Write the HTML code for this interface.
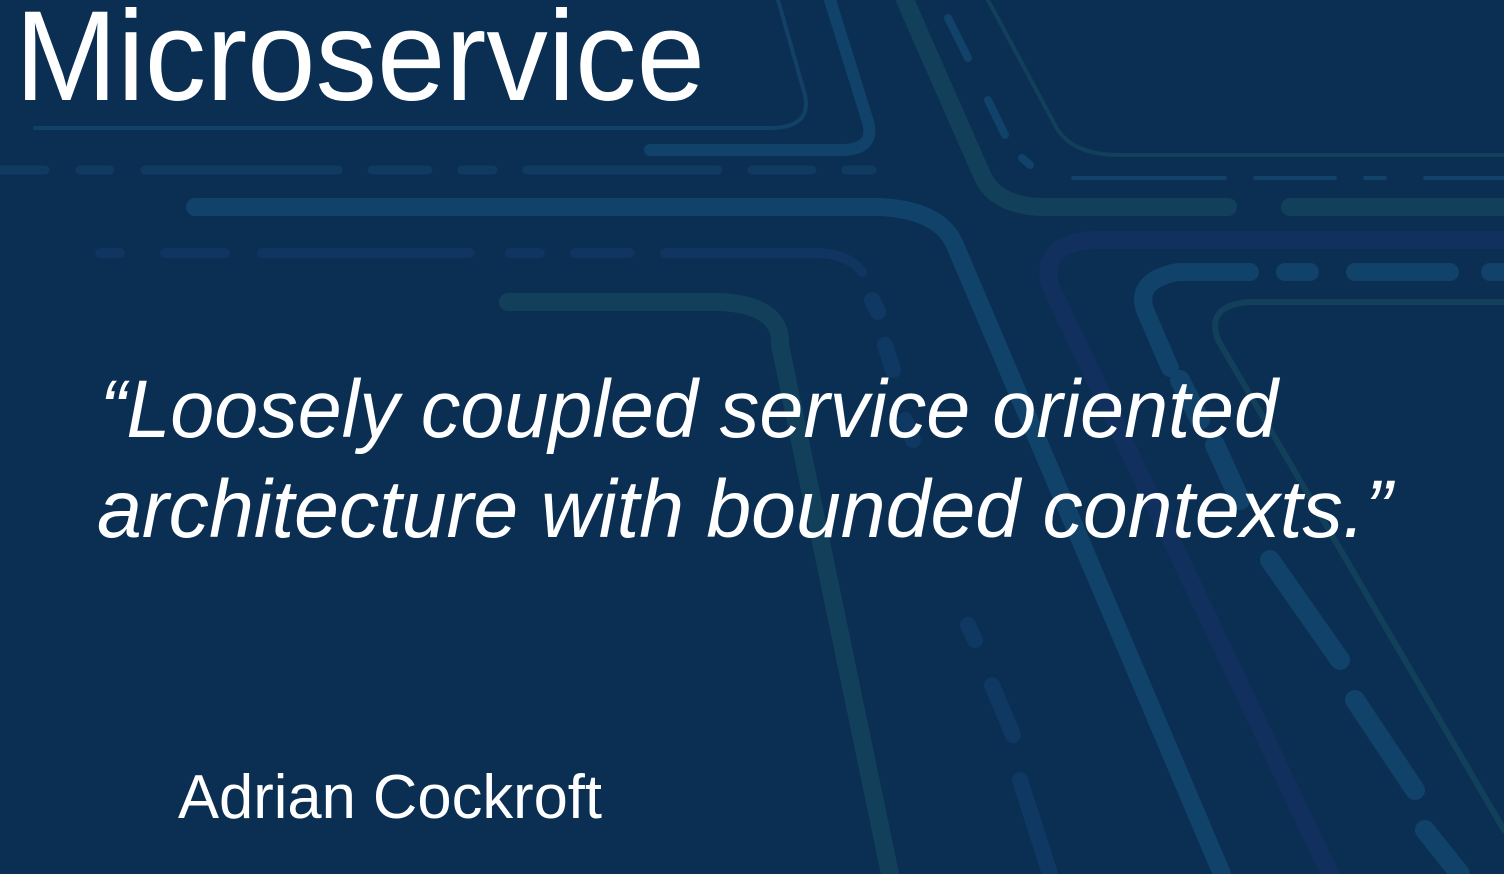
<!DOCTYPE html>
<html><head><style>
html,body{margin:0;padding:0;background:#0b2f52;width:1504px;height:874px;overflow:hidden}
svg{display:block}
</style></head><body>
<svg width="1504" height="874" viewBox="0 0 1504 874" xmlns="http://www.w3.org/2000/svg">
<rect width="1504" height="874" fill="#0b2f52"/>
<g fill="none" stroke-linecap="round" stroke-linejoin="round">
<!-- thin top-left line -->
<path d="M35 128 H770 Q812 128 805 95 L778 0" stroke="#124066" stroke-width="4"/>
<path d="M650 150 H845 Q875 148 868 122 L830 0" stroke="#11426a" stroke-width="12"/>
<!-- dashed row y=170 -->
<path d="M0 170 H45 M80 170 H110 M145 170 H338 M372 170 H428 M462 170 H493 M527 170 H718 M752 170 H812 M846 170 H872" stroke="#103a60" stroke-width="9"/>
<!-- thick light line -->
<path d="M195 207 H880 Q940 210 955 245 L1222 874" stroke="#11426a" stroke-width="18"/>
<!-- dark dashed line -->
<path d="M100 253 H120 M165 253 H225 M262 253 H470 M510 253 H540 M575 253 H630 M665 253 H820 Q850 255 862 272" stroke="#0f3560" stroke-width="10"/>
<path d="M872 300 L878 312 M885 345 L893 370 M905 420 L913 440 M968 625 L975 640 M992 685 L1013 735 M1020 780 L1050 874" stroke="#0f3963" stroke-width="16"/>
<!-- teal path -->
<path d="M508 302 H720 Q782 305 780 345 L890 874" stroke="#123f5a" stroke-width="18"/>
<!-- teal diagonal top right -->
<path d="M905 0 L982 175 Q995 205 1040 207 H1228 M1290 207 H1504" stroke="#123f5a" stroke-width="18"/>
<path d="M988 0 L1055 125 Q1070 155 1120 155 H1504" stroke="#123f5a" stroke-width="4"/>
<path d="M948 18 L968 58 M988 100 L1005 135 M1022 158 L1030 165" stroke="#11426a" stroke-width="8"/>
<path d="M1028 178 H1180 M1210 178 H1290 M1320 178 H1340 M1380 178 H1504" stroke="#11426a" stroke-width="4" transform="translate(45 0)"/>
<!-- purple-blue -->
<path d="M1504 240 H1090 Q1040 245 1050 285 L1330 874" stroke="#11305e" stroke-width="18"/>
<!-- dashed light line right -->
<path d="M1250 272 H1178 Q1135 280 1145 310 L1170 368" stroke="#11426a" stroke-width="18"/>
<path d="M1285 272 H1310 M1355 272 H1450 M1490 272 H1504" stroke="#11426a" stroke-width="18"/>
<path d="M1180 380 L1200 420 M1215 445 L1240 500 M1270 560 L1340 660 M1355 700 L1415 790 M1425 830 L1460 874" stroke="#11426a" stroke-width="20"/>
<!-- thin teal right -->
<path d="M1504 302 H1250 Q1205 305 1218 340 L1504 830" stroke="#123f5a" stroke-width="6"/>
</g>
<g fill="#ffffff" font-family="Liberation Sans, sans-serif">
<text x="15" y="100" font-size="128" textLength="690" lengthAdjust="spacingAndGlyphs" style="font-weight:300">Microservice</text>
<text x="100" y="437" font-size="82" font-style="italic" textLength="1178" lengthAdjust="spacingAndGlyphs">“Loosely coupled service oriented</text>
<text x="97" y="537" font-size="82" font-style="italic" textLength="1295" lengthAdjust="spacingAndGlyphs">architecture with bounded contexts.”</text>
<text x="178" y="818" font-size="62" textLength="424" lengthAdjust="spacingAndGlyphs">Adrian Cockroft</text>
</g>
</svg>
</body></html>
